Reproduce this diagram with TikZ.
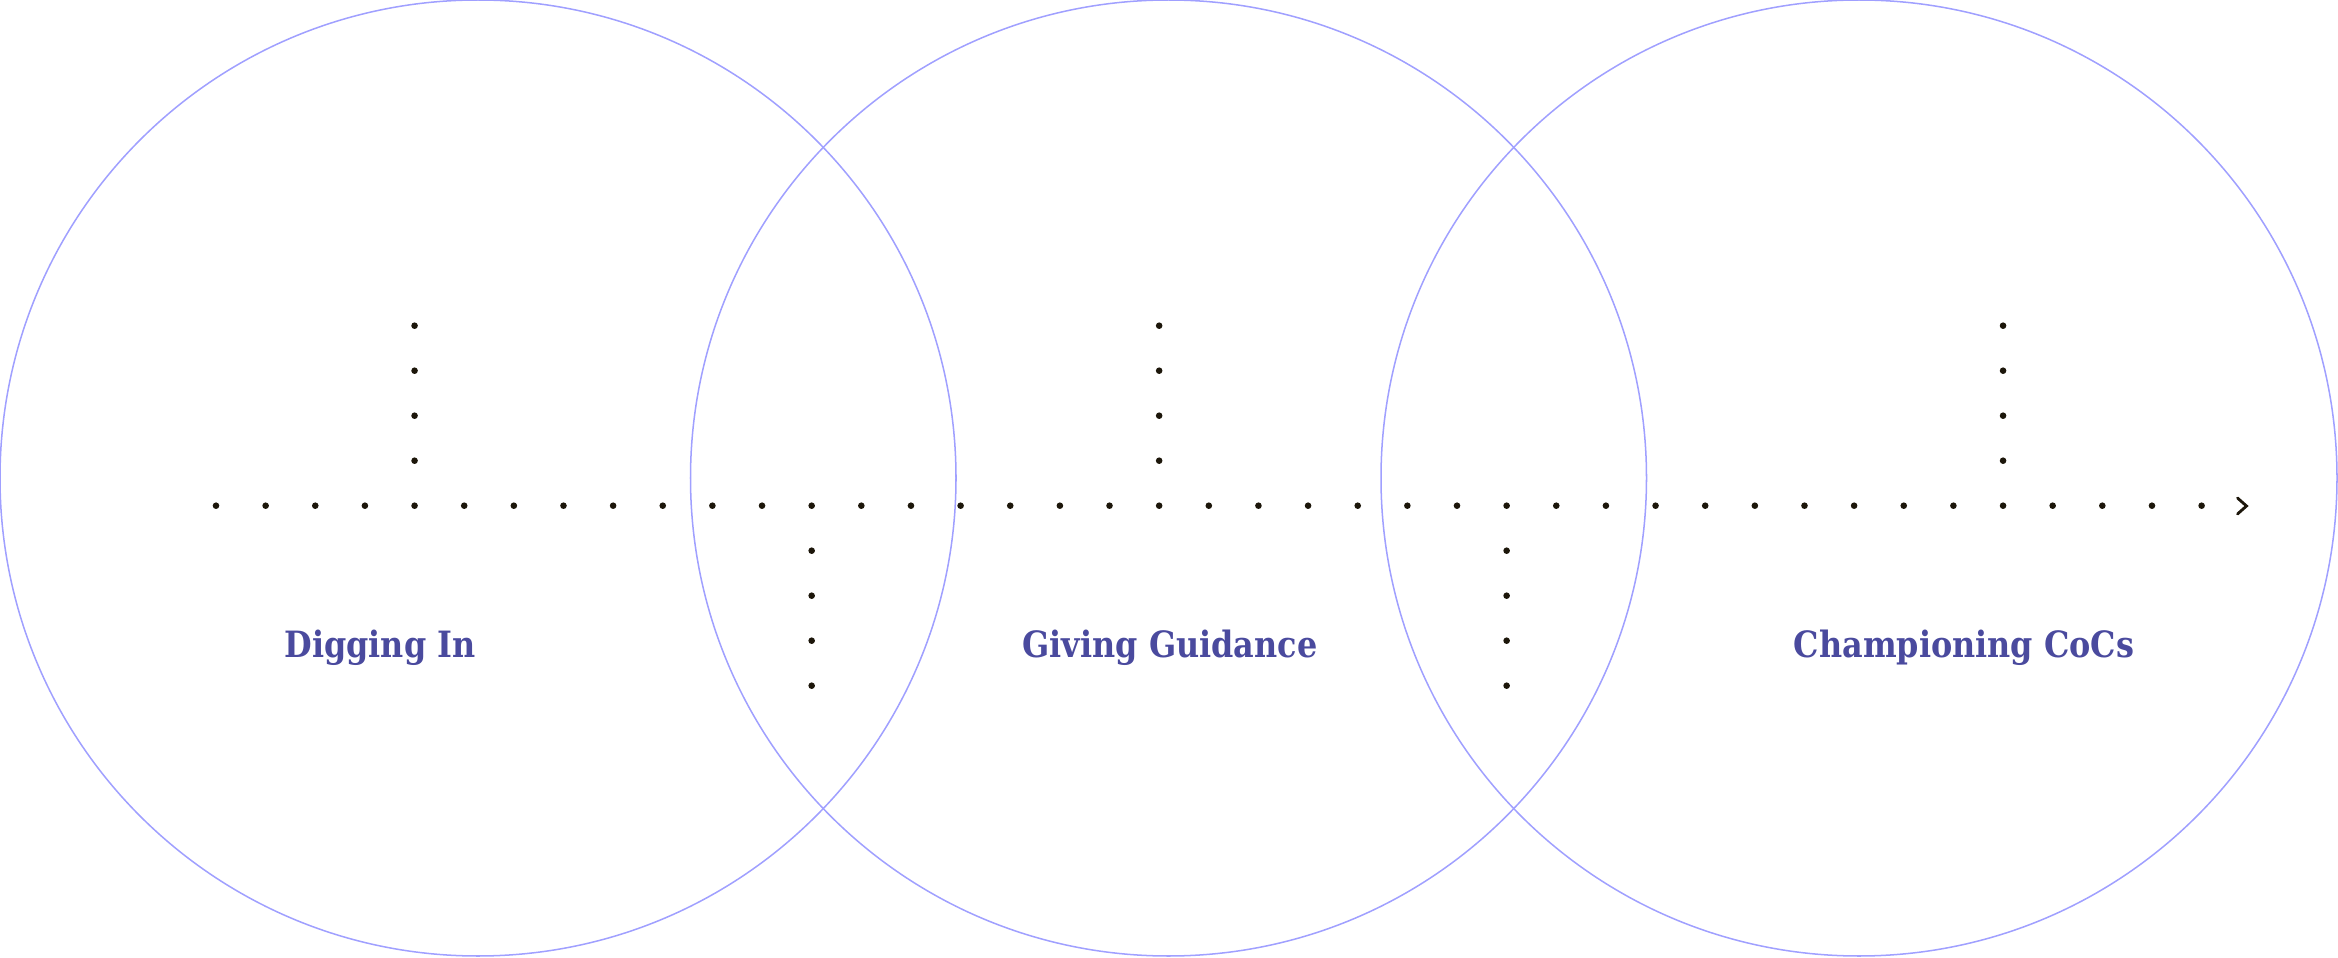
\documentclass[tikz,border=0pt]{standalone}
\usepackage{fontspec}
\setmainfont{DejaVu Serif}
\usepackage{tikz}
\usetikzlibrary{positioning}
\usepackage{xcolor}
\definecolor{ringblue}{RGB}{160,160,255}
\definecolor{stagetext}{RGB}{74,74,158}
\definecolor{dotdark}{RGB}{28,22,10}

\tikzset{
  ring/.style={draw=ringblue, line width=0.43pt},
  stage/.style={text=stagetext, font=\fontsize{10.3}{12}\selectfont\bfseries, anchor=base, xscale=0.88},
}

\begin{document}
\begin{tikzpicture}[x=0.01cm,y=-0.01cm]
\useasboundingbox (0,0) rectangle (2338,958);
% the three rings
\draw[ring] (478,478) circle (478);
\draw[ring] (1168.5,478) circle (478);
\draw[ring] (1859,478) circle (478);
% dotted time line
\foreach \i in {0,...,40}
  \fill[dotdark] (216+\i*49.64,505.7) circle (3.3);
% branches going up
\foreach \i in {4,19,36}
  \foreach \j in {1,...,4}
    \fill[dotdark] (216+\i*49.64,505.7-\j*45) circle (3.3);
% branches going down
\foreach \i in {12,26}
  \foreach \j in {1,...,4}
    \fill[dotdark] (216+\i*49.64,505.7+\j*45) circle (3.3);
% arrow head at the end
\draw[dotdark, line width=0.8pt, line cap=round, line join=miter] (2237.5,498) -- (2246.5,506) -- (2237.5,514);
% labels
\node[stage] (dig) at (380,658) {Digging In};
\node[stage] (guide) at (1170,658) {Giving Guidance};
\node[stage] (champ) at (1964,658) {Championing CoCs};
\end{tikzpicture}
\end{document}
